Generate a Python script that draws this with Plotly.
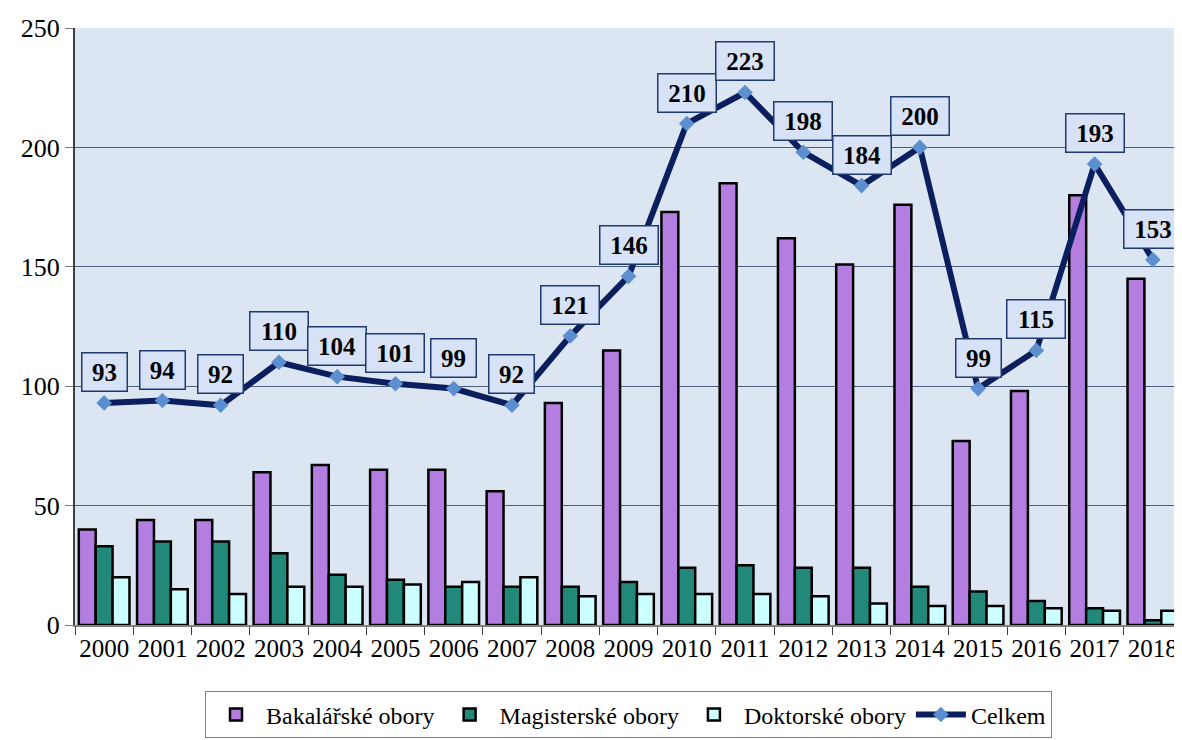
import plotly.graph_objects as go

years = [str(y) for y in range(2000, 2019)]
bakalarske = [40, 44, 44, 64, 67, 65, 65, 56, 93, 115, 173, 185, 162, 151, 176, 77, 98, 180, 145]
magisterske = [33, 35, 35, 30, 21, 19, 16, 16, 16, 18, 24, 25, 24, 24, 16, 14, 10, 7, 2]
doktorske = [20, 15, 13, 16, 16, 17, 18, 20, 12, 13, 13, 13, 12, 9, 8, 8, 7, 6, 6]
celkem = [93, 94, 92, 110, 104, 101, 99, 92, 121, 146, 210, 223, 198, 184, 200, 99, 115, 193, 153]

SERIF = "Liberation Serif"

fig = go.Figure()
fig.add_trace(go.Bar(x=years, y=bakalarske, name="Bakalářské obory",
                     marker=dict(color="#B47EE0", line=dict(color="black", width=2.5))))
fig.add_trace(go.Bar(x=years, y=magisterske, name="Magisterské obory",
                     marker=dict(color="#22897A", line=dict(color="black", width=2.5))))
fig.add_trace(go.Bar(x=years, y=doktorske, name="Doktorské obory",
                     marker=dict(color="#CCFFFF", line=dict(color="black", width=2.5))))
fig.add_trace(go.Scatter(x=years, y=celkem, name="Celkem", mode="lines+markers",
                         line=dict(color="#0B1F5E", width=6),
                         marker=dict(symbol="diamond", size=12, color="#5B8FD0",
                                     line=dict(color="#5B8FD0", width=0))))

for i, v in enumerate(celkem):
    fig.add_annotation(x=i, y=v, xref="x", yref="y", text=f"<b>{v}</b>", showarrow=False,
                       yshift=31, width=42 if v < 100 else 55, height=35,
                       font=dict(family=SERIF, size=25, color="black"),
                       bgcolor="#D8E2F6", bordercolor="#1F3A6E", borderwidth=1.5,
                       borderpad=1)

fig.update_layout(
    width=1174, height=732,
    margin=dict(l=67, r=0, t=20, b=115, autoexpand=False),
    paper_bgcolor="white", plot_bgcolor="#DCE6F2",
    barmode="group", bargap=0.13, bargroupgap=0,
    font=dict(family=SERIF, size=22, color="black"),
    showlegend=True,
    legend=dict(orientation="h", x=0.5, xanchor="center", y=-0.19, yanchor="bottom",
                bordercolor="#808080", borderwidth=1, bgcolor="white",
                font=dict(family=SERIF, size=24), itemwidth=50,
                traceorder="normal"),
)
fig.update_xaxes(type="category", categoryorder="array", categoryarray=years,
                 range=[-0.5, len(years) - 0.5], autorange=False,
                 showline=True, linecolor="#808080", linewidth=1.5,
                 ticks="outside", tickson="boundaries", ticklen=8, tickcolor="#404040",
                 tickangle=0,
                 tickfont=dict(family=SERIF, size=25), showgrid=False)
fig.update_yaxes(range=[0, 250], dtick=50, showline=True, linecolor="#404040", linewidth=2,
                 ticks="outside", ticklen=8, tickcolor="#808080",
                 tickfont=dict(family=SERIF, size=26),
                 showgrid=True, gridcolor="#4A5E7E", gridwidth=1, zeroline=False)

fig.write_html("out.html")
